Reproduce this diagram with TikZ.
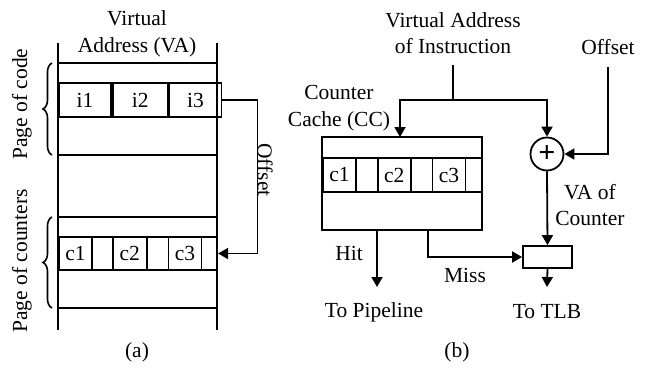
\documentclass[tikz,border=0pt]{standalone}
\usepackage{fontspec}
\setmainfont{Liberation Serif}
\usetikzlibrary{arrows.meta,decorations.pathreplacing,positioning}
\tikzset{
    line/.style={line width=1.6pt},
    rowbox/.style={draw, line width=2.2pt, inner sep=0pt},
    cellbox/.style={draw, line width=1.8pt, inner sep=0pt, minimum height=33pt},
    arr/.style={line width=1.8pt, -{Triangle[length=10pt,width=11pt]}},
    lbl/.style={inner sep=0pt, align=center},
    pagebrace/.style={line width=1.6pt, decorate, decoration={brace, amplitude=9pt}}
}
\begin{document}
\begin{tikzpicture}[x=1pt,y=-1pt,font=\fontsize{21.5}{26.5}\selectfont]
        \useasboundingbox (0,0) rectangle (646,373);
        % (a) line
        \draw [line] (58,43) -- (58,330);\draw [line] (217,43) -- (217,330);
        \foreach \y in {63,117,155,217,270,308} \draw [line] (58,\y) -- (217,\y);
        % (a) rows
        \node [rowbox, minimum width=159pt, minimum height=34pt] (irow) at (137.5,100) {};
        \node [cellbox, minimum width=52pt, minimum height=34pt, anchor=west] (i1) at (58,100) {i1};
        \node [cellbox, minimum width=55pt, minimum height=34pt, right=0pt of i1] (i2) {i2};
        \node [cellbox, minimum width=52pt, minimum height=34pt, right=0pt of i2] (i3) {i3};
        \node [rowbox, minimum width=159pt, minimum height=33pt] (crow) at (137.5,253.5) {};
        \node [cellbox, minimum width=33pt, anchor=west] (ac1) at (58,253.5) {c1};
        \node [cellbox, minimum width=34pt, right=19pt of ac1] (ac2) {c2};
        \node [cellbox, minimum width=33pt, right=20pt of ac2] (ac3) {c3};
        % (a) lecter
        \node [lbl] (vahead) at (137,34) {Virtual\\Address (VA)};
        \node [lbl, rotate=90] (pcode) at (22,104) {Page of code};
        \node [lbl, rotate=90] (pcnt) at (22,261) {Page of counters};
        \node [lbl, rotate=-90] (offa) at (265,170) {Offset};
        \node [lbl] (capa) at (137,352) {(a)};
        % (a) brace
        \draw [pagebrace] (52,155) -- (52,63);
        \draw [pagebrace] (52,308) -- (52,217);
        % (a) arrow
        \draw [arr] (i3.east) -- ++(35,0) |- (crow.east);

        % (b) cache
        \node [draw, line width=1.8pt, minimum width=160pt, minimum height=93pt, inner sep=0pt] (cc) at (402,183.5) {};
        \node [rowbox, minimum width=160pt, minimum height=34pt] (brow) at (402,175) {};
        \node [cellbox, minimum width=33pt, minimum height=34pt, anchor=west] (bc1) at (322,175) {c1};
        \node [cellbox, minimum width=33pt, minimum height=34pt, right=20pt of bc1] (bc2) {c2};
        \node [cellbox, minimum width=33pt, minimum height=34pt, right=20pt of bc2] (bc3) {c3};
        % (b) adder and box
        \node [draw, circle, line width=1.8pt, minimum size=33pt, inner sep=0pt, font=\fontsize{30}{30}\selectfont\bfseries] (add) at (547,154) {+};
        \node [draw, line width=1.8pt, minimum width=49pt, minimum height=22pt, inner sep=0pt] (tlb) at (547.5,257) {};
        % (b) lecter
        \node [lbl] (vainstr) at (453,33) {Virtual Address\\of Instruction};
        \node [lbl] (offb) at (608,47) {Offset};
        \node [lbl] (cclabel) at (339,108) {Counter\\Cache (CC)};
        \node [lbl] (vacnt) at (590,205) {VA of\\Counter};
        \node [lbl] (hit) at (349,253) {Hit};
        \node [lbl] (miss) at (465,275) {Miss};
        \node [lbl] (pipe) at (374,312) {To Pipeline};
        \node [lbl] (totlb) at (547,312) {To TLB};
        \node [lbl] (capb) at (457,352) {(b)};
        % (b) point
        \coordinate (vain) at (453,65);\coordinate (split) at (453,100);\coordinate (ccin) at (400,137);
        \coordinate (offin) at (608,67);\coordinate (cchit) at (377,230);\coordinate (ccmiss) at (428,230);
        \coordinate (hitend) at (377,287);\coordinate (tlbend) at (547,287);
        % (b) arrow
        \draw [line] (vain) -- (split);
        \draw [arr] (split) -| (ccin);\draw [arr] (split) -| (add.north);
        \draw [arr] (offin) |- (add.east);
        \draw [arr] (add.south) -- (tlb.north);
        \draw [arr] (ccmiss) |- (tlb.west);
        \draw [arr] (cchit) -- (hitend);
        \draw [arr] (tlb.south) -- (tlbend);
    \end{tikzpicture}
\end{document}
